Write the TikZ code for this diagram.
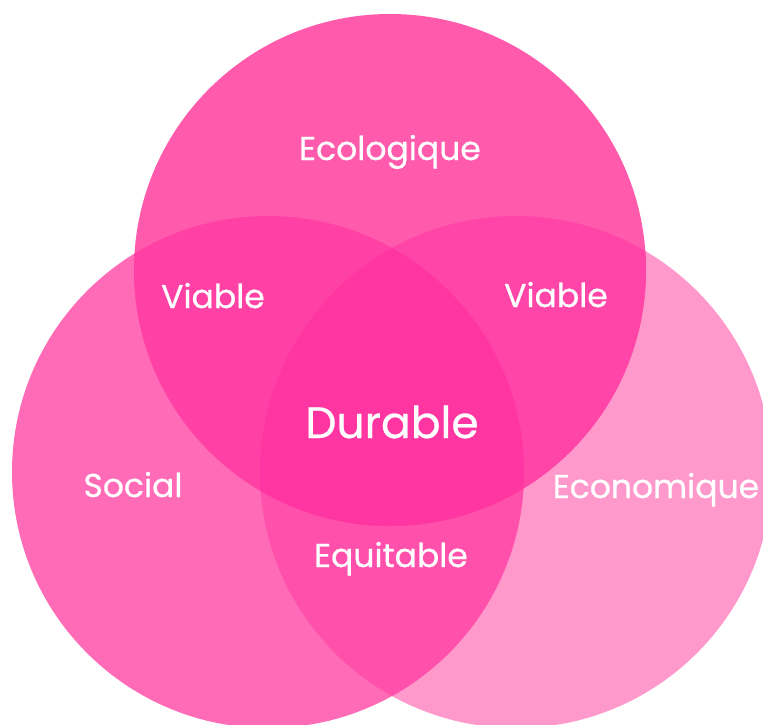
\documentclass[tikz,border=0pt]{standalone}
\usepackage{fontspec}
\setmainfont{Poppins}[FakeBold=0.6]
\definecolor{ecolo}{HTML}{FF5AAB}
\definecolor{social}{HTML}{FF6BB6}
\definecolor{econo}{HTML}{FF99CC}
\definecolor{ecosoc}{HTML}{FF40A5}
\definecolor{ecoeco}{HTML}{FF45A8}
\definecolor{soceco}{HTML}{FF50AB}
\definecolor{durable}{HTML}{FF36A1}
\begin{document}
\begin{tikzpicture}[x=1pt,y=-1pt,
	lbl/.style={text=white, anchor=base, inner sep=0pt, font=\fontsize{33}{38}\selectfont},
	big/.style={lbl, font=\fontsize{44}{48}\selectfont}]
	\useasboundingbox (0,0) rectangle (763,724);
	\clip (0,0) rectangle (763,724);
	\coordinate (ctop) at (390,270);
	\coordinate (cleft) at (268,472);
	\coordinate (cright) at (516,472);
	
	\fill[econo] (cright) circle (256pt);
	\fill[social] (cleft) circle (256pt);
	\fill[ecolo] (ctop) circle (256pt);
	\begin{scope}
		\clip (cleft) circle (256pt);
		\fill[soceco] (cright) circle (256pt);
		\fill[ecosoc] (ctop) circle (256pt);
	\end{scope}
	\begin{scope}
		\clip (cright) circle (256pt);
		\fill[ecoeco] (ctop) circle (256pt);
		\clip (cleft) circle (256pt);
		\fill[durable] (ctop) circle (256pt);
	\end{scope}
	
	\node[lbl] at (390,160) (ecologique) {Ecologique};
	\node[lbl] at (133,497) (social) {Social};
	\node[lbl] at (656,498) (economique) {Economique};
	\node[lbl] at (213,308) (viableleft) {Viable};
	\node[lbl] at (556,307) (viableright) {Viable};
	\node[lbl] at (391,567) (equitable) {Equitable};
	\node[big] at (392,438) (durable) {Durable};
\end{tikzpicture}
\end{document}
